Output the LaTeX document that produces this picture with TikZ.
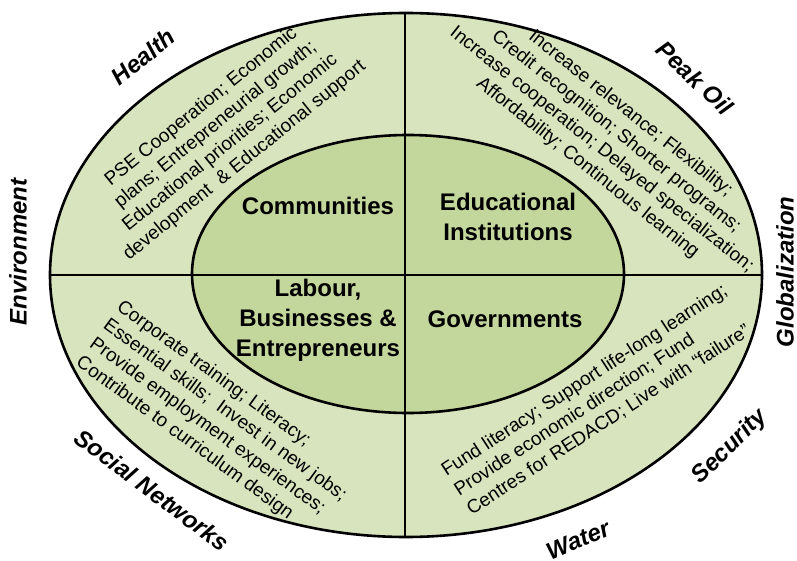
\documentclass[tikz,border=0pt]{standalone}
\usepackage{fontspec}
\setmainfont{Liberation Sans}
\definecolor{ringgreen}{HTML}{D7E4BD}
\definecolor{coregreen}{HTML}{C3D69B}
\begin{document}
\begin{tikzpicture}[x=1pt,y=-1pt,
    ring/.style={font=\fontsize{24}{28}\selectfont\bfseries\itshape},
    core/.style={font=\fontsize{24}{30}\selectfont\bfseries, align=center, inner sep=0pt},
    notes/.style={font=\fontsize{19}{23}\selectfont, inner sep=0pt}]
    \useasboundingbox (0,0) rectangle (797,561);
    \draw [line width=2.6pt, fill=ringgreen] (406,275) ellipse (356 and 262);
    \draw [line width=2.6pt, fill=coregreen] (408,274) ellipse (216 and 139);
    \draw [line width=1.8pt] (405,13) -- (405,537);
    \draw [line width=1.8pt] (50,275) -- (762,275);

    \draw (318,206) node (communities) [core] {Communities};
    \draw (508,217) node (eduinst) [core] {Educational\\ Institutions};
    \draw (318,320) node (labour) [core] {Labour,\\ Businesses \&\\ Entrepreneurs};
    \draw (505,319) node (governments) [core] {Governments};

    \draw (223,134) node (healthnotes) [notes, rotate=39, align=center] {PSE Cooperation; Economic\\ plans; Entrepreneurial growth;\\ Educational priorities; Economic\\ development \ \& Educational support};
    \draw (609,141) node (edunotes) [notes, rotate=-38.5, align=center] {Increase relevance; Flexibility;\\ Credit recognition; Shorter programs;\\ Increase cooperation; Delayed specialization;\\ Affordability; Continuous learning};
    \draw (218,420) node (labournotes) [notes, rotate=-36, align=left] {Corporate training; Literacy;\\ Essential skills; \ Invest in new jobs;\\ Provide employment experiences;\\ Contribute to curriculum design};
    \draw (597,400) node (govnotes) [notes, rotate=33, align=left] {Fund literacy; Support life-long learning;\\ Provide economic direction; Fund\\ Centres for REDACD; Live with “failure”};

    \draw (143,57) node (health) [ring, rotate=39] {Health};
    \draw (695,78) node (peakoil) [ring, rotate=-43] {Peak Oil};
    \draw (785,272) node (globalization) [ring, rotate=90] {Globalization};
    \draw (18,252) node (environment) [ring, rotate=90] {Environment};
    \draw (152,490) node (socialnet) [ring, rotate=-37] {Social Networks};
    \draw (578,540) node (water) [ring, rotate=23] {Water};
    \draw (730,447) node (security) [ring, rotate=45] {Security};
\end{tikzpicture}
\end{document}
